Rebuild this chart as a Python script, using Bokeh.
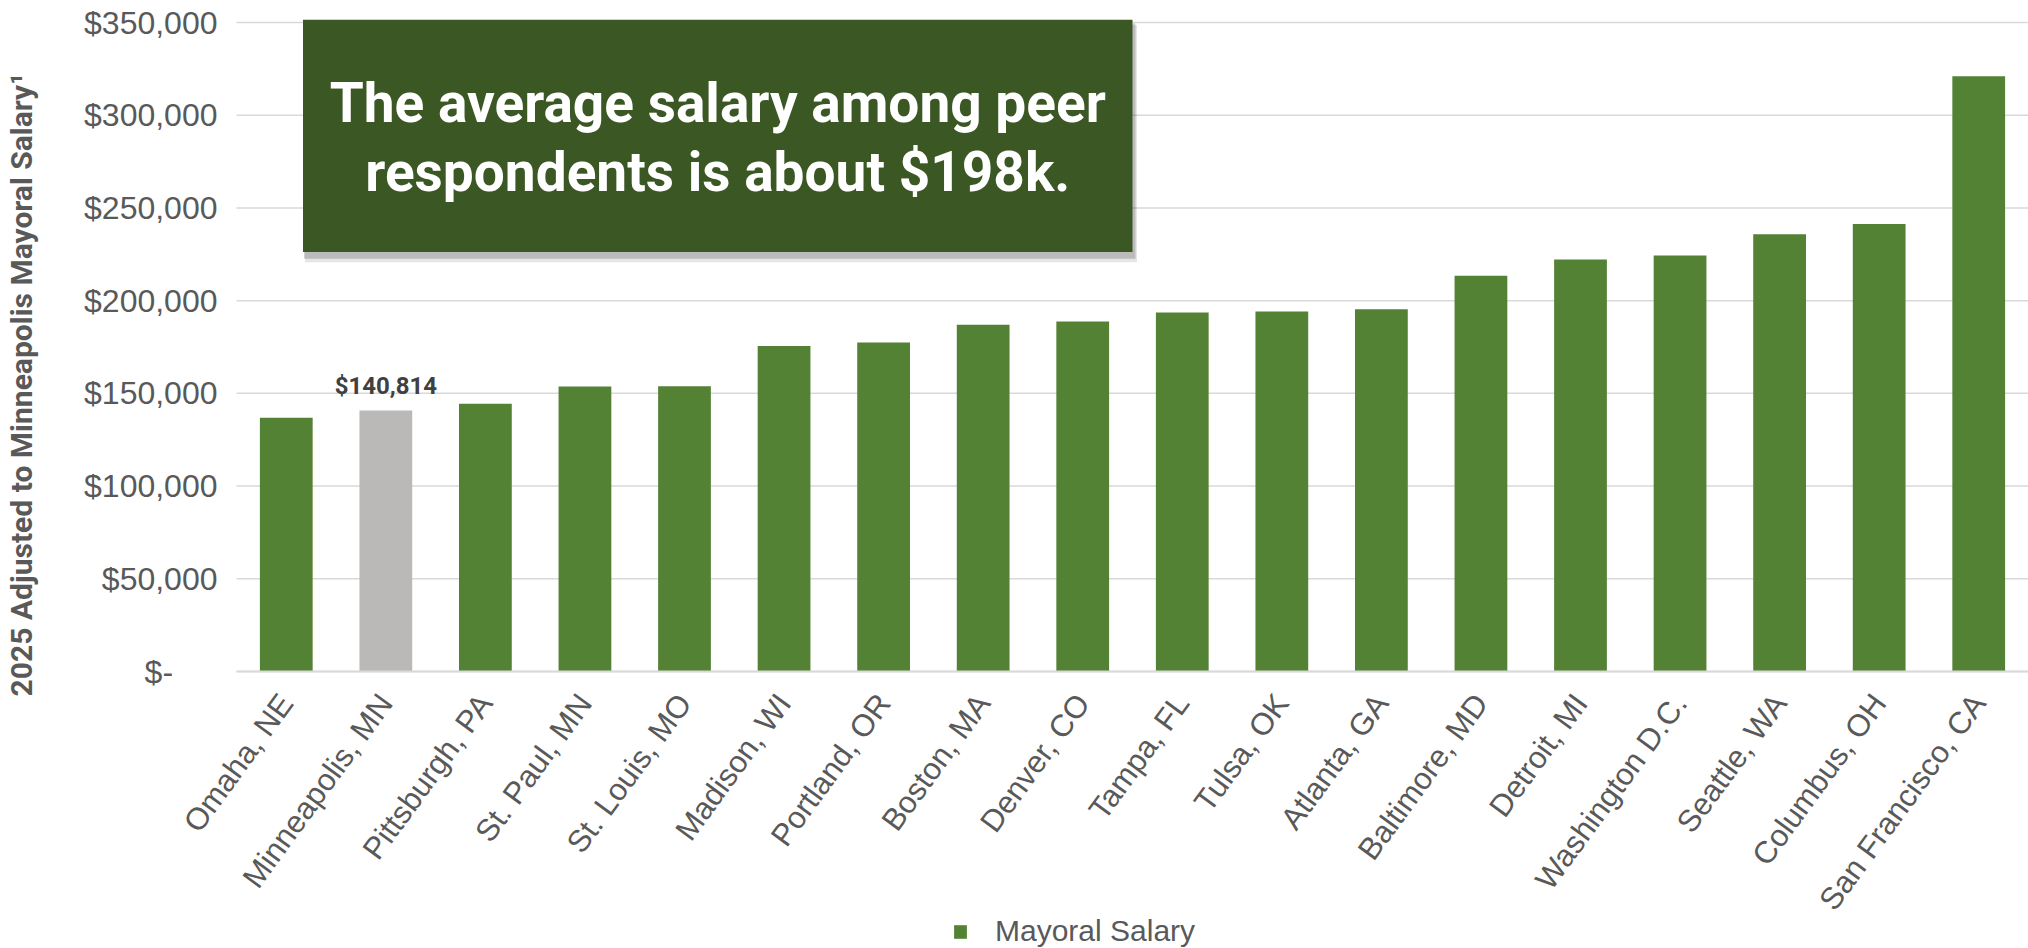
import math
from bokeh.plotting import figure
from bokeh.models import (ColumnDataSource, Range1d, FixedTicker,
                          Legend, LegendItem)
from bokeh.core.properties import value
from bokeh.embed import file_html
from bokeh.resources import INLINE

# ---------------- data ----------------
cities = ["Omaha, NE", "Minneapolis, MN", "Pittsburgh, PA", "St. Paul, MN",
          "St. Louis, MO", "Madison, WI", "Portland, OR", "Boston, MA",
          "Denver, CO", "Tampa, FL", "Tulsa, OK", "Atlanta, GA",
          "Baltimore, MD", "Detroit, MI", "Washington D.C.", "Seattle, WA",
          "Columbus, OH", "San Francisco, CA"]
salaries = [136800, 140814, 144400, 153700, 153900, 175500, 177400, 187000,
            188800, 193600, 194200, 195400, 213400, 222200, 224400, 235800,
            241300, 321000]
highlight_city = "Minneapolis, MN"
series_name = "Mayoral Salary"
y_ticks = [0, 50000, 100000, 150000, 200000, 250000, 300000, 350000]
y_tick_labels = ["$-", "$50,000", "$100,000", "$150,000", "$200,000",
                 "$250,000", "$300,000", "$350,000"]
y_title = "2025 Adjusted to Minneapolis Mayoral Salary\u00b9"
callout_lines = ["The average salary among peer", "respondents is about $198k."]

# ---------------- styles / layout ----------------
GREEN = "#548235"
GREY_BAR = "#BAB9B7"
BOX = "#3B5724"
TXT = "#595959"
GRID = "#D9D9D9"

W, H = 2028, 948
PLOT_LEFT = 236                      # pixel column where the bar area begins
TOP_Y, ZERO_Y = 22, 671              # pixel rows of $350,000 and $0
N = len(cities)
cat_px = (W - PLOT_LEFT) / N
X_MIN = -0.5 - PLOT_LEFT / cat_px
X_MAX = N - 0.5
Y_MAX = y_ticks[-1]
per_px = Y_MAX / (ZERO_Y - TOP_Y)
Y_TOP = Y_MAX + TOP_Y * per_px
Y_MIN = -(H - ZERO_Y) * per_px

xs = list(range(N))
colors = [GREY_BAR if c == highlight_city else GREEN for c in cities]
src = ColumnDataSource(dict(x=xs, city=cities, salary=salaries, color=colors))

p = figure(width=W, height=H, output_backend="svg", toolbar_location=None,
           x_range=Range1d(X_MIN, X_MAX), y_range=Range1d(Y_MIN, Y_TOP),
           min_border_left=0, min_border_right=0, min_border_top=0,
           min_border_bottom=0)
p.outline_line_color = None
p.background_fill_color = "white"
p.border_fill_color = "white"
p.xgrid.visible = False
p.ygrid.visible = False

# horizontal gridlines at the y ticks, spanning the bar area only
p.segment(x0=-0.5, x1=X_MAX, y0=y_ticks, y1=y_ticks, line_color=GRID,
          line_width=1.5)

bars = p.vbar(x="x", top="salary", bottom=0, width=0.53, source=src,
              fill_color="color", line_color=None)

# data label for the highlighted city
hi = cities.index(highlight_city)
lab_src = ColumnDataSource(dict(x=[xs[hi]], y=[salaries[hi]],
                                t=["${:,.0f}".format(salaries[hi])]))
p.text(x="x", y="y", text="t", source=lab_src, text_align="center",
       text_baseline="alphabetic", y_offset=-24, text_color="#404040",
       text_font=value("Roboto"), text_font_style="bold",
       text_font_size="24px")

# callout box (category units / data units)
bx_l, bx_r, bx_t, bx_b = 0.168, 8.5, Y_MAX + 1500, 226200
p.quad(left=[bx_l + 0.02], right=[bx_r + 0.045], top=[bx_t - 3000],
       bottom=[bx_b - 5500], fill_color="#000000", fill_alpha=0.10,
       line_color=None)
p.quad(left=[bx_l + 0.01], right=[bx_r + 0.03], top=[bx_t - 2000],
       bottom=[bx_b - 3600], fill_color="#000000", fill_alpha=0.18,
       line_color=None)
p.quad(left=[bx_l], right=[bx_r], top=[bx_t], bottom=[bx_b],
       fill_color=BOX, line_color=None)
cx = (bx_l + bx_r) / 2
p.text(x=[cx, cx], y=[306500, 269300], text=callout_lines,
       text_align="center", text_baseline="middle", text_color="white",
       text_font=value("Roboto"), text_font_style="bold",
       text_font_size="55px")

# y axis
yax = p.yaxis[0]
yax.fixed_location = -0.5
yax.ticker = FixedTicker(ticks=y_ticks)
overrides = {t: l for t, l in zip(y_ticks, y_tick_labels)}
overrides[0] = y_tick_labels[0] + "\u00a0" * 5
yax.major_label_overrides = overrides
yax.axis_line_color = None
yax.major_tick_line_color = None
yax.minor_tick_line_color = None
yax.major_tick_out = 0
yax.major_tick_in = 0
yax.major_label_standoff = 19
yax.major_label_text_font = "Liberation Sans"
yax.major_label_text_font_size = "32px"
yax.major_label_text_color = TXT
yax.axis_label = "\u00a0" * 24 + y_title
yax.axis_label_standoff = 42
yax.axis_label_text_font = "Roboto"
yax.axis_label_text_font_style = "bold"
yax.axis_label_text_font_size = "30px"
yax.axis_label_text_color = TXT

# x axis
xax = p.xaxis[0]
xax.fixed_location = 0
xax.bounds = (-0.5, X_MAX)
xax.ticker = FixedTicker(ticks=xs)
xax.major_label_overrides = {i: c for i, c in zip(xs, cities)}
xax.axis_line_color = GRID
xax.axis_line_width = 2
xax.major_tick_line_color = None
xax.minor_tick_line_color = None
xax.major_tick_out = 0
xax.major_tick_in = 0
xax.major_label_orientation = 0.94
xax.major_label_standoff = 26
xax.major_label_text_font = "Liberation Sans"
xax.major_label_text_font_size = "31px"
xax.major_label_text_color = TXT

legend = Legend(items=[LegendItem(label=series_name, renderers=[bars], index=0)],
                location=(PLOT_LEFT + 716, 0), orientation="horizontal",
                border_line_color=None, background_fill_alpha=0,
                padding=0, margin=0, glyph_width=16, glyph_height=17,
                label_standoff=27, label_text_font="Liberation Sans",
                label_text_font_size="30px", label_text_color=TXT)
p.add_layout(legend)

open("out.html", "w").write(file_html(p, INLINE))
